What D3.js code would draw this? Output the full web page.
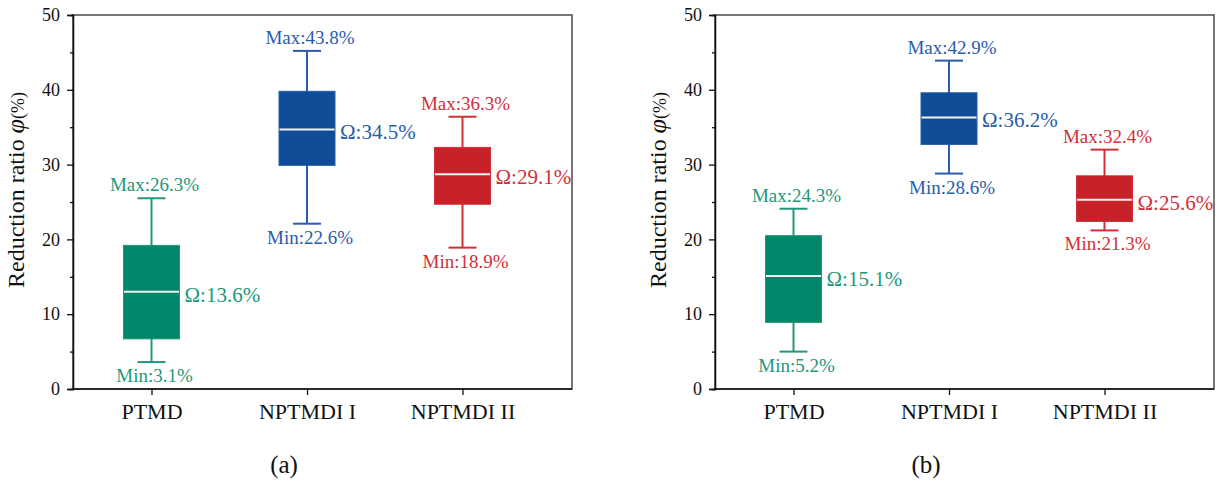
<!DOCTYPE html>
<html lang="en">
<head>
    <meta charset="UTF-8">
    <title>Reduction ratio box plots</title>
    <script src="https://d3js.org/d3.v7.min.js"></script>
    <style>
        body {
            margin: 0;
            background: #fff;
            font-family: "Liberation Serif", "Times New Roman", serif;
        }
        .axis text {
            font-family: "Liberation Serif", "Times New Roman", serif;
            fill: #111;
        }
        .axis path, .axis line {
            stroke: #111;
            stroke-width: 1.3;
        }
    </style>
</head>
<body>
    <svg width="1220" height="485"></svg>

    <script>
        const categories = ["PTMD", "NPTMDI I", "NPTMDI II"];
        const yTicks = [0, 10, 20, 30, 40, 50];
        const yMinorTicks = [5, 15, 25, 35, 45];

        // panel (a)
        const aLow = [3.6, 22.1, 18.9];
        const aQ1 = [6.7, 29.9, 24.7];
        const aMedian = [13.0, 34.7, 28.7];
        const aQ3 = [19.2, 39.8, 32.3];
        const aHigh = [25.5, 45.2, 36.4];
        const aMaxLabel = [26.3, 43.8, 36.3];
        const aMinLabel = [3.1, 22.6, 18.9];
        const aOmegaLabel = [13.6, 34.5, 29.1];

        // panel (b)
        const bLow = [5.0, 28.8, 21.2];
        const bQ1 = [8.9, 32.7, 22.4];
        const bMedian = [15.1, 36.3, 25.3];
        const bQ3 = [20.5, 39.6, 28.5];
        const bHigh = [24.1, 43.9, 32.0];
        const bMaxLabel = [24.3, 42.9, 32.4];
        const bMinLabel = [5.2, 28.6, 21.3];
        const bOmegaLabel = [15.1, 36.2, 25.6];

        const boxFill = ["#00876a", "#0e4c98", "#c7212a"];
        const lineColor = ["#23977a", "#2a5caa", "#cf3038"];

        const plotW = 499, plotH = 374;
        const svg = d3.select("svg");

        function drawPanel(left, top, rows, tag) {
            const g = svg.append("g").attr("transform", `translate(${left},${top})`);

            const x = d3.scalePoint().domain(categories).range([78.5, 389.5]);
            const y = d3.scaleLinear().domain([0, 50]).range([plotH, 0]);
            const boxW = 56, capW = 28;

            // frame
            g.append("rect")
                .attr("width", plotW).attr("height", plotH)
                .attr("fill", "none")
                .attr("stroke", "#555")
                .attr("stroke-width", 1.6);

            // axes
            g.append("g").attr("class", "axis")
                .call(d3.axisLeft(y).tickValues(yMinorTicks).tickSize(3).tickFormat(""));
            g.append("g").attr("class", "axis")
                .call(d3.axisLeft(y).tickValues(yTicks).tickSize(6).tickPadding(7))
                .selectAll("text").style("font-size", "18px");
            g.append("g").attr("class", "axis")
                .attr("transform", `translate(0,${plotH})`)
                .call(d3.axisBottom(x).tickSize(6).tickPadding(8).tickSizeOuter(0))
                .call(a => a.select(".domain").attr("d", `M0,0H${plotW}`))
                .selectAll("text").style("font-size", "22px");

            // y title
            const title = g.append("text")
                .attr("transform", `translate(-49,${plotH / 2 - 12}) rotate(-90)`)
                .attr("text-anchor", "middle")
                .style("font-size", "24px")
                .attr("fill", "#111");
            title.append("tspan").text("Reduction ratio ");
            title.append("tspan").style("font-style", "italic").style("font-size", "26px").text("φ");
            title.append("tspan").style("font-size", "18px").text("(%)");

            const boxes = g.append("g").selectAll("g")
                .data(rows)
                .join("g");

            // whiskers
            boxes.append("line")
                .attr("x1", d => x(d.cat)).attr("x2", d => x(d.cat))
                .attr("y1", d => y(d.low)).attr("y2", d => y(d.high))
                .attr("stroke", (d, i) => lineColor[i]).attr("stroke-width", 2);
            boxes.selectAll(".cap")
                .data(d => [d.low, d.high].map(v => ({ v, d })))
                .join("line")
                .attr("x1", e => x(e.d.cat) - capW / 2).attr("x2", e => x(e.d.cat) + capW / 2)
                .attr("y1", e => y(e.v)).attr("y2", e => y(e.v))
                .attr("stroke", e => lineColor[e.d.idx]).attr("stroke-width", 2);

            // boxes
            boxes.append("rect")
                .attr("x", d => x(d.cat) - boxW / 2)
                .attr("y", d => y(d.q3))
                .attr("width", boxW)
                .attr("height", d => y(d.q1) - y(d.q3))
                .attr("fill", (d, i) => boxFill[i])
                .attr("stroke", (d, i) => lineColor[i])
                .attr("stroke-width", 1);
            boxes.append("line")
                .attr("x1", d => x(d.cat) - boxW / 2 + 0.5).attr("x2", d => x(d.cat) + boxW / 2 - 0.5)
                .attr("y1", d => y(d.median)).attr("y2", d => y(d.median))
                .attr("stroke", "#f2f2f2").attr("stroke-width", 2);

            // labels
            boxes.append("text")
                .attr("x", d => x(d.cat) + 3)
                .attr("y", d => y(d.high) - 7)
                .attr("text-anchor", "middle")
                .style("font-size", "19px")
                .attr("fill", (d, i) => lineColor[i])
                .text(d => `Max:${d.maxLabel}%`);
            boxes.append("text")
                .attr("x", d => x(d.cat) + 3)
                .attr("y", d => y(d.low) + 20)
                .attr("text-anchor", "middle")
                .style("font-size", "19px")
                .attr("fill", (d, i) => lineColor[i])
                .text(d => `Min:${d.minLabel}%`);
            boxes.append("text")
                .attr("x", d => x(d.cat) + boxW / 2 + 5)
                .attr("y", d => y(d.median) + 10)
                .style("font-size", "21px")
                .attr("fill", (d, i) => lineColor[i])
                .text(d => `Ω:${d.omega}%`);

            // panel tag
            svg.append("text")
                .attr("x", left + 211)
                .attr("y", 473)
                .attr("text-anchor", "middle")
                .style("font-size", "25px")
                .attr("fill", "#111")
                .text(tag);
        }

        function makeRows(low, q1, median, q3, high, maxL, minL, omega) {
            return categories.map((cat, i) => ({
                cat, idx: i,
                low: low[i], q1: q1[i], median: median[i], q3: q3[i], high: high[i],
                maxLabel: maxL[i], minLabel: minL[i], omega: omega[i]
            }));
        }

        drawPanel(73, 15, makeRows(aLow, aQ1, aMedian, aQ3, aHigh, aMaxLabel, aMinLabel, aOmegaLabel), "(a)");
        drawPanel(715, 15, makeRows(bLow, bQ1, bMedian, bQ3, bHigh, bMaxLabel, bMinLabel, bOmegaLabel), "(b)");
    </script>
</body>
</html>
